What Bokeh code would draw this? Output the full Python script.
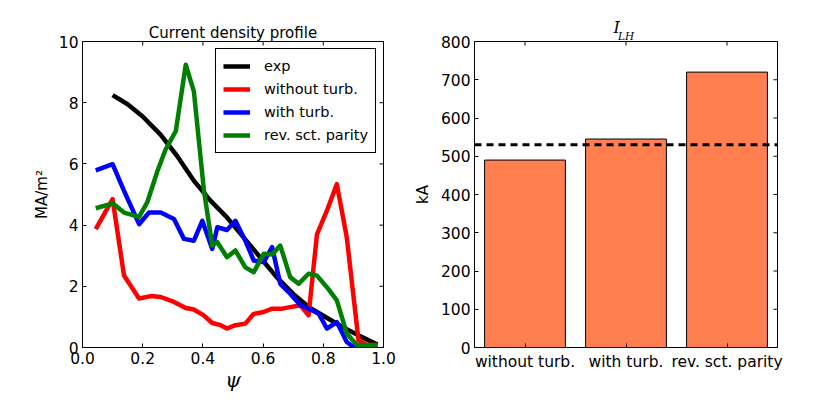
import math
from bokeh.plotting import figure
from bokeh.layouts import row
from bokeh.models import (Legend, LegendItem, LinearAxis, Span, FixedTicker,
                          PrintfTickFormatter)
from bokeh.embed import file_html
from bokeh.resources import INLINE

# ---------------- data ----------------
psi_exp = [0.10, 0.15, 0.20, 0.26, 0.315, 0.37, 0.425, 0.48, 0.535, 0.59, 0.645, 0.70,
           0.755, 0.81, 0.865, 0.92, 0.98]
j_exp = [8.25, 7.95, 7.55, 6.95, 6.25, 5.45, 4.8, 4.25, 3.6, 2.95, 2.3, 1.75, 1.3, 0.98,
         0.66, 0.38, 0.1]

psi_without = [0.044, 0.10, 0.138, 0.188, 0.227, 0.26, 0.304, 0.343, 0.37, 0.403, 0.431,
               0.459, 0.48, 0.508, 0.541, 0.569, 0.602, 0.63, 0.663, 0.69, 0.724, 0.751,
               0.779, 0.812, 0.845, 0.878, 0.917, 0.945, 0.98]
j_without = [3.87, 4.85, 2.35, 1.6, 1.68, 1.65, 1.49, 1.29, 1.24, 1.05, 0.8, 0.73, 0.62,
             0.73, 0.78, 1.1, 1.16, 1.27, 1.27, 1.32, 1.38, 1.05, 3.7, 4.47, 5.34, 3.6,
             0.24, 0.08, 0.08]

psi_with = [0.044, 0.10, 0.138, 0.188, 0.221, 0.26, 0.304, 0.337, 0.37, 0.398, 0.431,
            0.448, 0.48, 0.508, 0.541, 0.569, 0.602, 0.63, 0.657, 0.69, 0.724, 0.757,
            0.785, 0.812, 0.845, 0.878, 0.90, 0.98]
j_with = [5.79, 5.99, 5.12, 4.03, 4.41, 4.41, 4.2, 3.55, 3.49, 4.14, 3.22, 3.93, 3.84,
          4.14, 3.49, 2.84, 2.79, 3.28, 2.08, 1.76, 1.38, 1.24, 1.1, 0.62, 0.83, 0.18,
          0.02, 0.02]

psi_rev = [0.044, 0.10, 0.138, 0.188, 0.215, 0.249, 0.276, 0.31, 0.343, 0.37, 0.403,
           0.431, 0.448, 0.48, 0.508, 0.541, 0.569, 0.602, 0.63, 0.657, 0.69, 0.718,
           0.751, 0.779, 0.812, 0.845, 0.878, 0.912, 0.978]
j_rev = [4.55, 4.71, 4.41, 4.27, 4.74, 5.77, 6.47, 7.07, 9.24, 8.37, 5.17, 3.33, 3.44,
         2.95, 3.17, 2.62, 2.46, 3.06, 3.04, 3.33, 2.3, 2.08, 2.41, 2.35, 1.97, 1.54,
         0.46, 0.08, 0.08]

categories = ["without turb.", "with turb.", "rev. sct. parity"]
i_lh = [490, 545, 720]
i_lh_exp = 530

series_names = ["exp", "without turb.", "with turb.", "rev. sct. parity"]

psi_ticks = [0.0, 0.2, 0.4, 0.6, 0.8, 1.0]
j_ticks = [0, 2, 4, 6, 8, 10]
ka_ticks = [0, 100, 200, 300, 400, 500, 600, 700, 800]

FONT = "DejaVu Sans"
TICK = "15.5px"


def style_axis(ax):
    ax.major_tick_in = 4
    ax.major_tick_out = 0
    ax.minor_tick_in = 0
    ax.minor_tick_out = 0
    ax.axis_line_color = None
    ax.major_tick_line_color = "black"
    ax.major_label_text_font = FONT
    ax.major_label_text_color = "black"
    ax.major_label_text_font_size = TICK
    ax.major_label_standoff = 4
    ax.axis_label_text_font = FONT
    ax.axis_label_text_font_style = "normal"
    ax.axis_label_text_color = "black"


def frame_style(p):
    p.grid.visible = False
    p.outline_line_color = "black"
    p.outline_line_alpha = 1
    p.outline_line_width = 1


# ---------------- left: current density profile ----------------
p1 = figure(frame_width=301, frame_height=306, x_range=(0, 1), y_range=(0, 10),
            min_border_left=82, min_border_right=25, min_border_top=41, min_border_bottom=62,
            output_backend="svg", toolbar_location=None, title="Current density profile")
p1.title.align = "center"
p1.title.text_font = FONT
p1.title.text_font_size = "15px"
p1.title.text_font_style = "normal"
p1.title.text_color = "black"
p1.title.standoff = 0
frame_style(p1)

p1.xaxis.ticker = FixedTicker(ticks=psi_ticks)
p1.yaxis.ticker = FixedTicker(ticks=j_ticks)
p1.xaxis.formatter = PrintfTickFormatter(format="%.1f")
style_axis(p1.xaxis[0])
style_axis(p1.yaxis[0])
p1.xaxis.axis_label = "ψ"
p1.xaxis.axis_label_text_font = "DejaVu Serif"
p1.xaxis.axis_label_text_font_style = "italic"
p1.xaxis.axis_label_text_font_size = "20px"
p1.xaxis.axis_label_standoff = 1
p1.yaxis.axis_label = "MA/m²"
p1.yaxis.axis_label_text_font_size = "15px"
p1.yaxis.axis_label_standoff = 5

# inward ticks on the top and right edges (half of each dash is clipped by the frame)
p1.scatter(psi_ticks, [p1.y_range.end] * len(psi_ticks), marker="dash", size=8,
           angle=math.pi / 2, line_color="black", line_width=1)
p1.scatter([p1.x_range.end] * len(j_ticks), j_ticks, marker="dash", size=8,
           line_color="black", line_width=1)

colors = ["black", "#FF0000", "#0000FF", "#008000"]
xs = [psi_exp, psi_without, psi_with, psi_rev]
ys = [j_exp, j_without, j_with, j_rev]
items = []
for name, c, x, y in zip(series_names, colors, xs, ys):
    r = p1.line(x, y, line_color=c, line_width=4.5, line_join="round")
    items.append(LegendItem(label=name, renderers=[r]))

legend = Legend(items=items, location="top_right")
legend.border_line_color = "black"
legend.border_line_width = 1
legend.border_line_alpha = 1
legend.label_text_font = FONT
legend.label_text_font_size = "14.5px"
legend.label_text_color = "black"
legend.glyph_width = 27
legend.glyph_height = 20
legend.label_height = 20
legend.spacing = 3
legend.padding = 7
legend.margin = 7
legend.label_standoff = 14
legend.background_fill_alpha = 1
p1.add_layout(legend)

# ---------------- right: I_LH bars ----------------
# each category occupies one unit of the x scale, bars centred in it
cat_x = [i + 0.5 for i in range(len(categories))]
p2 = figure(frame_width=303, frame_height=306, x_range=(0, len(categories)),
            y_range=(0, 800),
            min_border_left=66, min_border_right=40, min_border_top=41, min_border_bottom=62,
            output_backend="svg", toolbar_location=None, title="I")
frame_style(p2)
p2.xaxis.ticker = FixedTicker(ticks=cat_x)
p2.xaxis.major_label_overrides = {x: c for x, c in zip(cat_x, categories)}
p2.yaxis.ticker = FixedTicker(ticks=ka_ticks)
style_axis(p2.xaxis[0])
style_axis(p2.yaxis[0])
p2.xaxis.major_label_standoff = 5
p2.yaxis.axis_label = "kA"
p2.yaxis.axis_label_text_font_size = "15px"
p2.yaxis.axis_label_standoff = 6

# title I_LH : "I" as the plot title, "LH" as the label of a tick-less top axis
p2.title.text_font = "DejaVu Serif"
p2.title.text_font_style = "italic"
p2.title.text_font_size = "16px"
p2.title.text_color = "black"
p2.title.align = "left"
p2.title.offset = 139
p2.title.standoff = -20
top2 = LinearAxis(ticker=FixedTicker(ticks=[]))
top2.axis_line_color = None
top2.major_tick_line_color = None
top2.minor_tick_line_color = None
top2.major_label_text_font_size = TICK
top2.axis_label = "LH"
top2.axis_label_text_font = "DejaVu Serif"
top2.axis_label_text_font_style = "italic"
top2.axis_label_text_font_size = "10.5px"
top2.axis_label_text_color = "black"
top2.axis_label_standoff = 0
p2.add_layout(top2, "above")

p2.scatter(cat_x, [p2.y_range.end] * len(cat_x), marker="dash", size=8,
           angle=math.pi / 2, line_color="black", line_width=1)
p2.scatter([p2.x_range.end] * len(ka_ticks), ka_ticks, marker="dash", size=8,
           line_color="black", line_width=1)

p2.vbar(x=cat_x, top=i_lh, width=0.8, fill_color="#FF7F50", line_color="black",
        line_width=1)
p2.add_layout(Span(location=i_lh_exp, dimension="width", line_color="black",
                   line_width=3, line_dash="7 5"))

layout = row(p1, p2)
open("out.html", "w").write(file_html(layout, INLINE))
